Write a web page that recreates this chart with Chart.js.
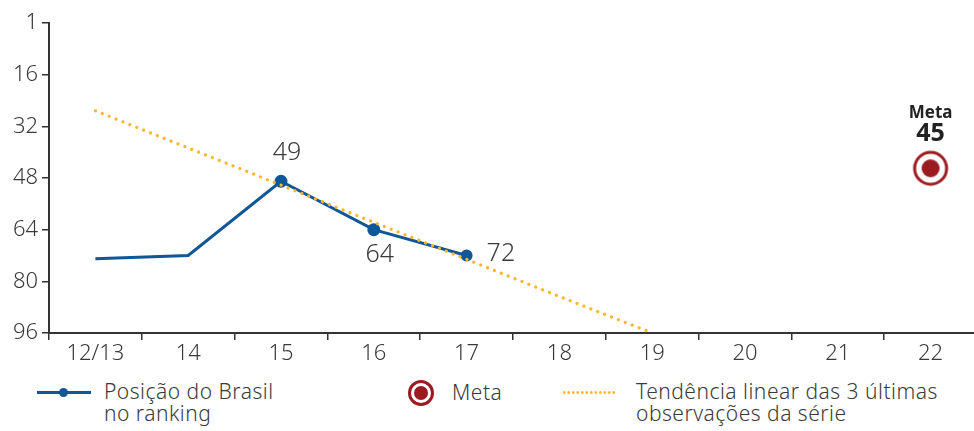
<!DOCTYPE html>
<html>
<head>
<meta charset="utf-8">
<script src="https://cdn.jsdelivr.net/npm/chart.js@4"></script>
<style>
  body { margin: 0; width: 974px; height: 431px; overflow: hidden; background: #fff; font-family: "Noto Sans", Lato, sans-serif; color: #3a3a3a; }
  #wrap { position: absolute; left: 0; top: 0; width: 982px; height: 372px; }
  .leg { position: absolute; font-size: 21px; font-weight: 300; line-height: 22px; letter-spacing: 0.5px; color: #3a3a3a; white-space: nowrap; }
  .ring { position: absolute; width: 20px; height: 20px; border: 3px solid #9b1b21; border-radius: 50%; }
  .ring div { position: absolute; left: 3px; top: 3px; width: 14px; height: 14px; border-radius: 50%; background: #9b1b21; }
</style>
</head>
<body>
<div id="wrap"><canvas id="chart" width="982" height="372"></canvas></div>

<!-- legend -->
<div style="position:absolute;left:37px;top:391px;width:54px;height:3px;background:#0f5799"></div>
<div style="position:absolute;left:59px;top:388px;width:9px;height:9px;border-radius:50%;background:#0f5799"></div>
<div class="leg" style="left:104px;top:380px">Posição do Brasil<br>no ranking</div>

<div class="ring" style="left:408px;top:380px"><div></div></div>
<div class="leg" style="left:452px;top:381px">Meta</div>

<div style="position:absolute;left:562px;top:391px;width:54px;height:3px;background-image:radial-gradient(circle, #fbb62e 1.2px, transparent 1.5px);background-size:4.5px 3px;"></div>
<div class="leg" style="left:636px;top:380px">Tendência linear das 3 últimas<br>observações da série</div>

<script>
// DATA

const categories = ["12/13", "14", "15", "16", "17", "18", "19", "20", "21", "22"];
const brasil = [73, 72, 49, 64, 72, null, null, null, null, null];
const brasilLabels = [null, null, "49", "64", "72", null, null, null, null, null];
const labelPos = [null, null, "top", "bottom", "right", null, null, null, null, null];
const tendencia = [27.2, 38.7, 50.2, 61.7, 73.2, 84.7, 96, null, null, null];
const meta = [null, null, null, null, null, null, null, null, null, 45];
const yTicks = [0, 16, 32, 48, 64, 80, 96];
const yTickLabels = ["1", "16", "32", "48", "64", "80", "96"];

const BLUE = "#0f5799";
const ORANGE = "#fbb62e";
const RED = "#9b1b21";
const TEXT = "#3a3a3a";

// target icon for the meta point
function makeTarget() {
  let c = document.createElement("canvas");
  c.width = 38;
  c.height = 38;
  let g = c.getContext("2d");
  g.strokeStyle = RED;
  g.lineWidth = 3;
  g.beginPath();
  g.arc(19, 19, 16, 0, Math.PI * 2);
  g.stroke();
  g.fillStyle = RED;
  g.beginPath();
  g.arc(19, 19, 9, 0, Math.PI * 2);
  g.fill();
  return c;
}

// DRAW POINT LABELS
const labelsPlugin = {
  id: "pointLabels",
  afterDatasetsDraw(chart) {
    let ctx = chart.ctx;
    ctx.save();
    ctx.fillStyle = TEXT;
    ctx.font = "300 25px 'Noto Sans'";
    ctx.textBaseline = "middle";
    let pts = chart.getDatasetMeta(1).data;
    pts.forEach((p, i) => {
      if (!brasilLabels[i]) return;
      if (labelPos[i] == "top") {
        ctx.textAlign = "center";
        ctx.fillText(brasilLabels[i], p.x + 6, p.y - 28);
      } else if (labelPos[i] == "bottom") {
        ctx.textAlign = "center";
        ctx.fillText(brasilLabels[i], p.x + 6, p.y + 25);
      } else {
        ctx.textAlign = "left";
        ctx.fillText(brasilLabels[i], p.x + 20, p.y - 2);
      }
    });

    let mp = chart.getDatasetMeta(2).data[9];
    ctx.fillStyle = "#222";
    ctx.textAlign = "center";
    ctx.font = "bold 17px 'Noto Sans'";
    ctx.fillText("Meta", mp.x, mp.y - 55);
    ctx.font = "bold 25px 'Noto Sans'";
    ctx.fillText(meta[9], mp.x, mp.y - 34);
    ctx.restore();
  },
};

const ctx = document.getElementById("chart").getContext("2d");

Chart.defaults.font.family = "'Noto Sans'";
Chart.defaults.font.weight = 300;
Chart.defaults.color = TEXT;

const myChart = new Chart(ctx, {
  type: "line",
  data: {
    labels: categories,
    datasets: [
      {
        label: "Tendência linear das 3 últimas observações da série",
        data: tendencia,
        borderColor: ORANGE,
        borderWidth: 3.3,
        borderDash: [0.01, 7.4],
        borderCapStyle: "round",
        pointRadius: 0,
        fill: false,
      },
      {
        label: "Posição do Brasil no ranking",
        data: brasil,
        borderColor: BLUE,
        backgroundColor: BLUE,
        borderWidth: 3,
        pointRadius: [0, 0, 5, 5, 4.5, 0, 0, 0, 0, 0],
        pointHoverRadius: 5,
        fill: false,
      },
      {
        label: "Meta",
        data: meta,
        pointStyle: makeTarget(),
        showLine: false,
      },
    ],
  },
  plugins: [labelsPlugin],
  options: {
    responsive: false,
    animation: false,
    layout: { padding: { top: 23, left: 0, right: 0, bottom: 0 } },
    plugins: {
      legend: { display: false },
      tooltip: { enabled: false },
    },
    scales: {
      x: {
        offset: true,
        grid: { offset: true, drawOnChartArea: false, drawTicks: true, tickLength: 7, color: "#333", lineWidth: 1.5 },
        border: { color: "#333", width: 2 },
        ticks: { font: { size: 22 }, color: TEXT, padding: 1, maxRotation: 0 },
        afterFit: (s) => { s.height = 39; },
      },
      y: {
        reverse: true,
        min: 0,
        max: 96,
        afterBuildTicks: (s) => { s.ticks = yTicks.map((v) => ({ value: v })); },
        grid: { drawOnChartArea: false, drawTicks: true, tickLength: 7, color: "#333", lineWidth: 1.5 },
        border: { color: "#333", width: 2 },
        ticks: {
          font: { size: 22 },
          color: TEXT,
          padding: 4,
          callback: (v) => yTickLabels[yTicks.indexOf(v)],
        },
        afterFit: (s) => { s.width = 49; },
      },
    },
  },
});
</script>
</body>
</html>
